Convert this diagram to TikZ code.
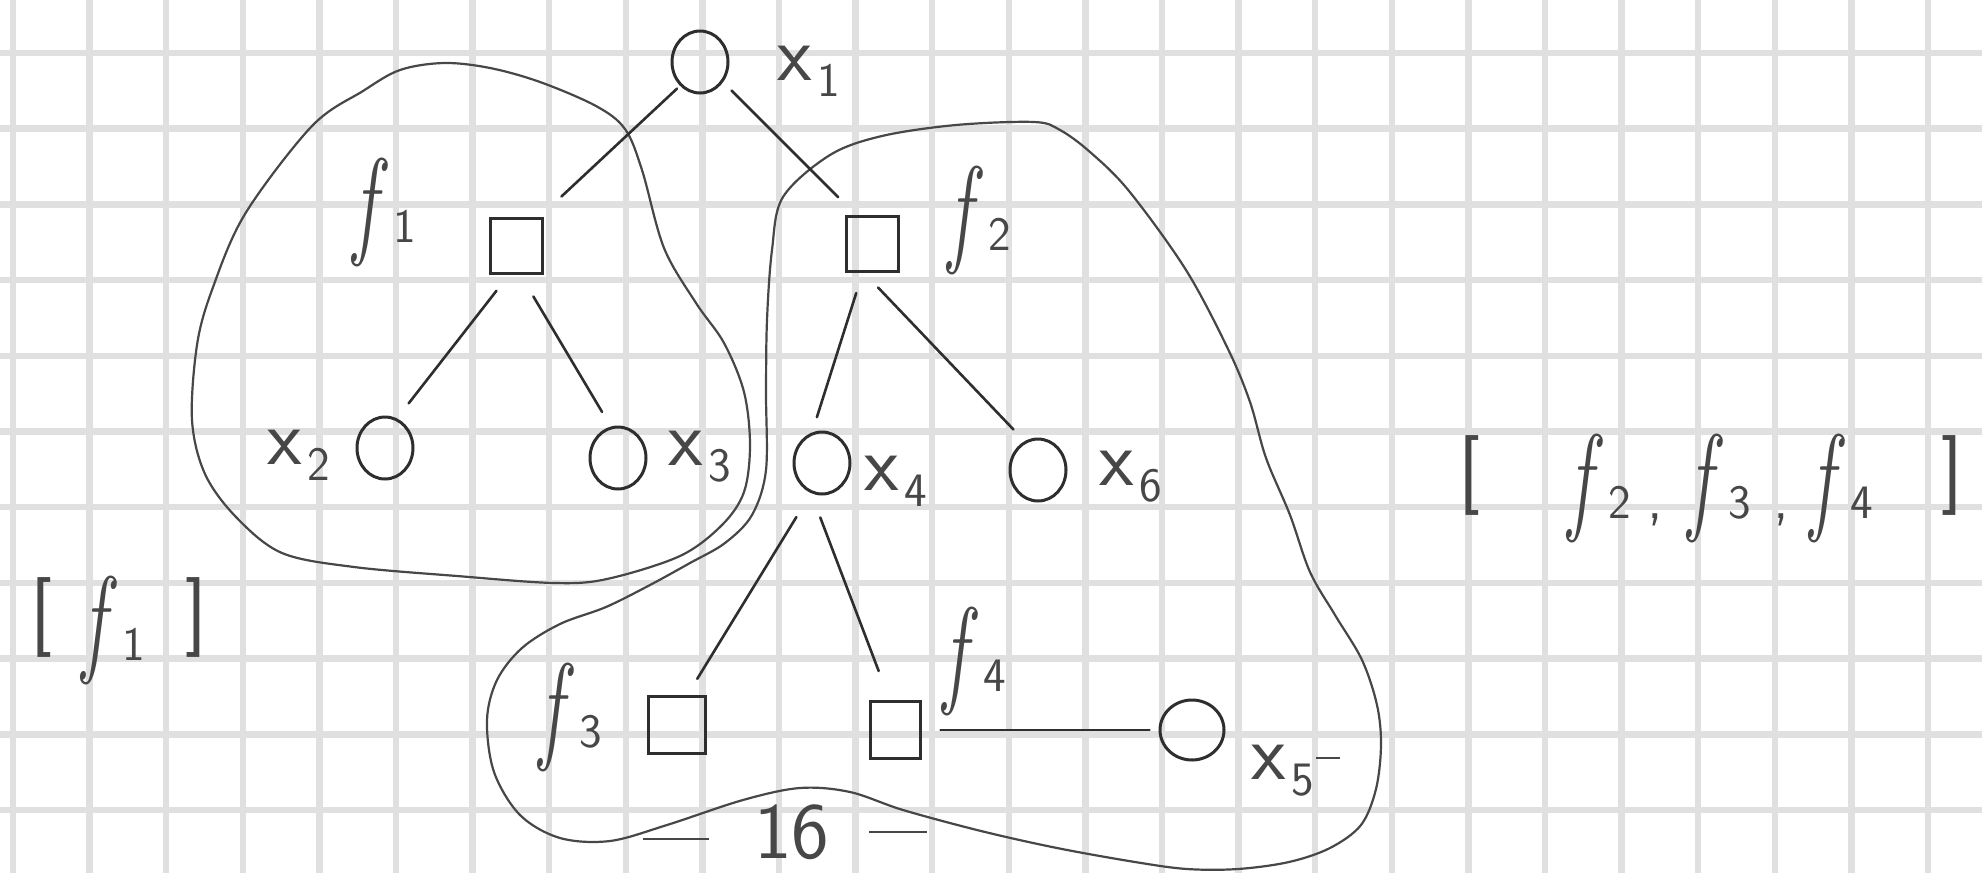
\documentclass[tikz,border=0pt]{standalone}
\usepackage{fontspec}
\usepackage{graphicx}
\usetikzlibrary{shapes.geometric}
\definecolor{gridc}{HTML}{E0E0E0}
\definecolor{ink}{HTML}{2E2E2E}
\definecolor{pencil}{HTML}{474747}
\newcommand{\hf}[1]{\scalebox{1.3}[2]{\textit{f}}\hspace{5pt}{\sffamily\fontsize{48}{48}\selectfont #1}}
\newcommand{\xs}[1]{x\hspace{6pt}\raisebox{-16pt}{\fontsize{48}{48}\selectfont #1}}
\newcommand{\brk}[1]{\raisebox{23pt}{\sffamily\fontsize{80}{80}\selectfont #1}}
\tikzset{
  var/.style={ellipse, draw=ink, line width=3pt, minimum width=56pt, minimum height=62pt, inner sep=0pt},
  fac/.style={rectangle, draw=ink, line width=3pt, minimum width=52pt, minimum height=55pt, inner sep=0pt},
  link/.style={draw=ink, line width=2.6pt, line cap=round},
  blob/.style={draw=pencil, line width=2.2pt},
  xlab/.style={text=pencil, font=\fontsize{80}{80}\selectfont\sffamily, inner sep=0pt, anchor=base west},
  flab/.style={text=pencil, font=\fontsize{60}{72}\selectfont, inner sep=0pt},
  gridline/.style={draw=gridc, line width=6.5pt}
}
\begin{document}
\begin{tikzpicture}[x=1pt, y=-1pt]
\fill[white] (0,0) rectangle (1982,873);
\useasboundingbox (0,0) rectangle (1982,873);
% grid paper
\foreach \k in {0,...,25} \draw[gridline] ({13+76.6*\k},0) -- ({13+76.6*\k},873);
\foreach \k in {0,...,10} \draw[gridline] (0,{53+75.7*\k}) -- (1982,{53+75.7*\k});

% grouping outlines
\draw[blob] plot[smooth cycle, tension=0.55] coordinates {
 (400,70) (444,63) (490,68) (540,82) (596,106) (625,129) (642,170) (664,248)
 (696,303) (724,343) (744,392) (750,445) (744,492) (722,525) (680,556) (607,579)
 (554,583) (457,576) (354,567) (282,553) (236,517) (205,474) (192,420) (197,345)
 (212,290) (245,214) (312,126) (363,91)};
\draw[blob] plot[smooth cycle, tension=0.55] coordinates {
 (882,136) (956,125) (1034,122) (1060,130) (1090,152) (1129,191) (1186,270)
 (1228,349) (1250,402) (1266,458) (1290,515) (1310,572) (1335,615) (1362,660)
 (1377,705) (1381,745) (1376,789) (1361,825) (1330,848) (1289,862) (1238,869)
 (1187,869) (1135,862) (1057,848) (981,831) (903,810) (850,792) (800,788)
 (743,800) (667,825) (610,841) (560,838) (520,815) (494,772) (487,720) (497,680)
 (522,648) (560,624) (606,607) (650,585) (690,563) (725,543) (752,515) (766,470)
 (766,392) (767,320) (772,250) (783,197) (830,155)};

% variable nodes and factor nodes
\node[var] (x1) at (700,62) {};
\node[fac] (f1) at (516,246) {};
\node[fac] (f2) at (872,244) {};
\node[var] (x2) at (385,448) {};
\node[var] (x3) at (618,458) {};
\node[var] (x4) at (822,463) {};
\node[var] (x6) at (1038,470) {};
\node[fac, minimum width=57pt, minimum height=57pt] (f3) at (677,725) {};
\node[fac, minimum width=50pt, minimum height=57pt] (f4) at (895,730) {};
\node[var, minimum width=64pt, minimum height=60pt] (x5) at (1192,730) {};

% connectors
\draw[link, shorten <=4pt, shorten >=30pt] (x1.230) -- (f1.51);
\draw[link, shorten <=12pt, shorten >=25pt] (x1.319) -- (f2.119);
\draw[link, shorten <=20pt, shorten >=19pt] (f1.256) -- (x2.68);
\draw[link, shorten <=25pt, shorten >=17pt] (f1.279) -- (x3.103);
\draw[link, shorten <=21pt, shorten >=16pt] (f2.252) -- (x4.108);
\draw[link, shorten <=20pt, shorten >=16pt] (f2.255) -- (x6.115);
\draw[link, shorten <=28pt, shorten >=19pt] (x4.250) -- (f3.71);
\draw[link, shorten <=26pt, shorten >=31pt] (x4.250) -- (f4.100);
\draw[link, shorten <=19pt, shorten >=9pt] (f4.east) -- (x5.west);

% variable labels
\node[xlab] (lx1) at (777,80) {\xs{1}};
\node[xlab] (lx2) at (267,464) {\xs{2}};
\node[xlab] (lx3) at (668,465) {\xs{3}};
\node[xlab] (lx4) at (864,490) {\xs{4}};
\node[xlab] (lx6) at (1099,485) {\xs{6}};
\node[xlab] (lx5) at (1251,779) {\xs{5}\hspace{2pt}\raisebox{20pt}{\rule{24pt}{2.5pt}}};

% factor labels
\node[flab] (lf1) at (385,212) {\hf{1}};
\node[flab] (lf2) at (980,220) {\hf{2}};
\node[flab] (lf3) at (571,717) {\hf{3}};
\node[flab] (lf4) at (975,661) {\hf{4}};

% groups
\node[flab] (g1) at (119,630) {\brk{[}\hspace{30pt}\hf{1}\hspace{40pt}\brk{]}};
\node[flab] (g2) at (1711,488) {\brk{[}\hspace{88pt}\hf{2}\hspace{16pt}{\sffamily,}\hspace{26pt}\hf{3}\hspace{22pt}{\sffamily,}\hspace{22pt}\hf{4}\hspace{68pt}\brk{]}};

% footer
\node[text=pencil, font=\fontsize{80}{80}\selectfont\sffamily, inner sep=0pt, anchor=base west] (num) at (643,858)
 {\raisebox{18pt}{\rule{66pt}{2.5pt}}\hspace{45pt}16\hspace{40pt}\raisebox{25pt}{\rule{58pt}{2.5pt}}};
\end{tikzpicture}
\end{document}
